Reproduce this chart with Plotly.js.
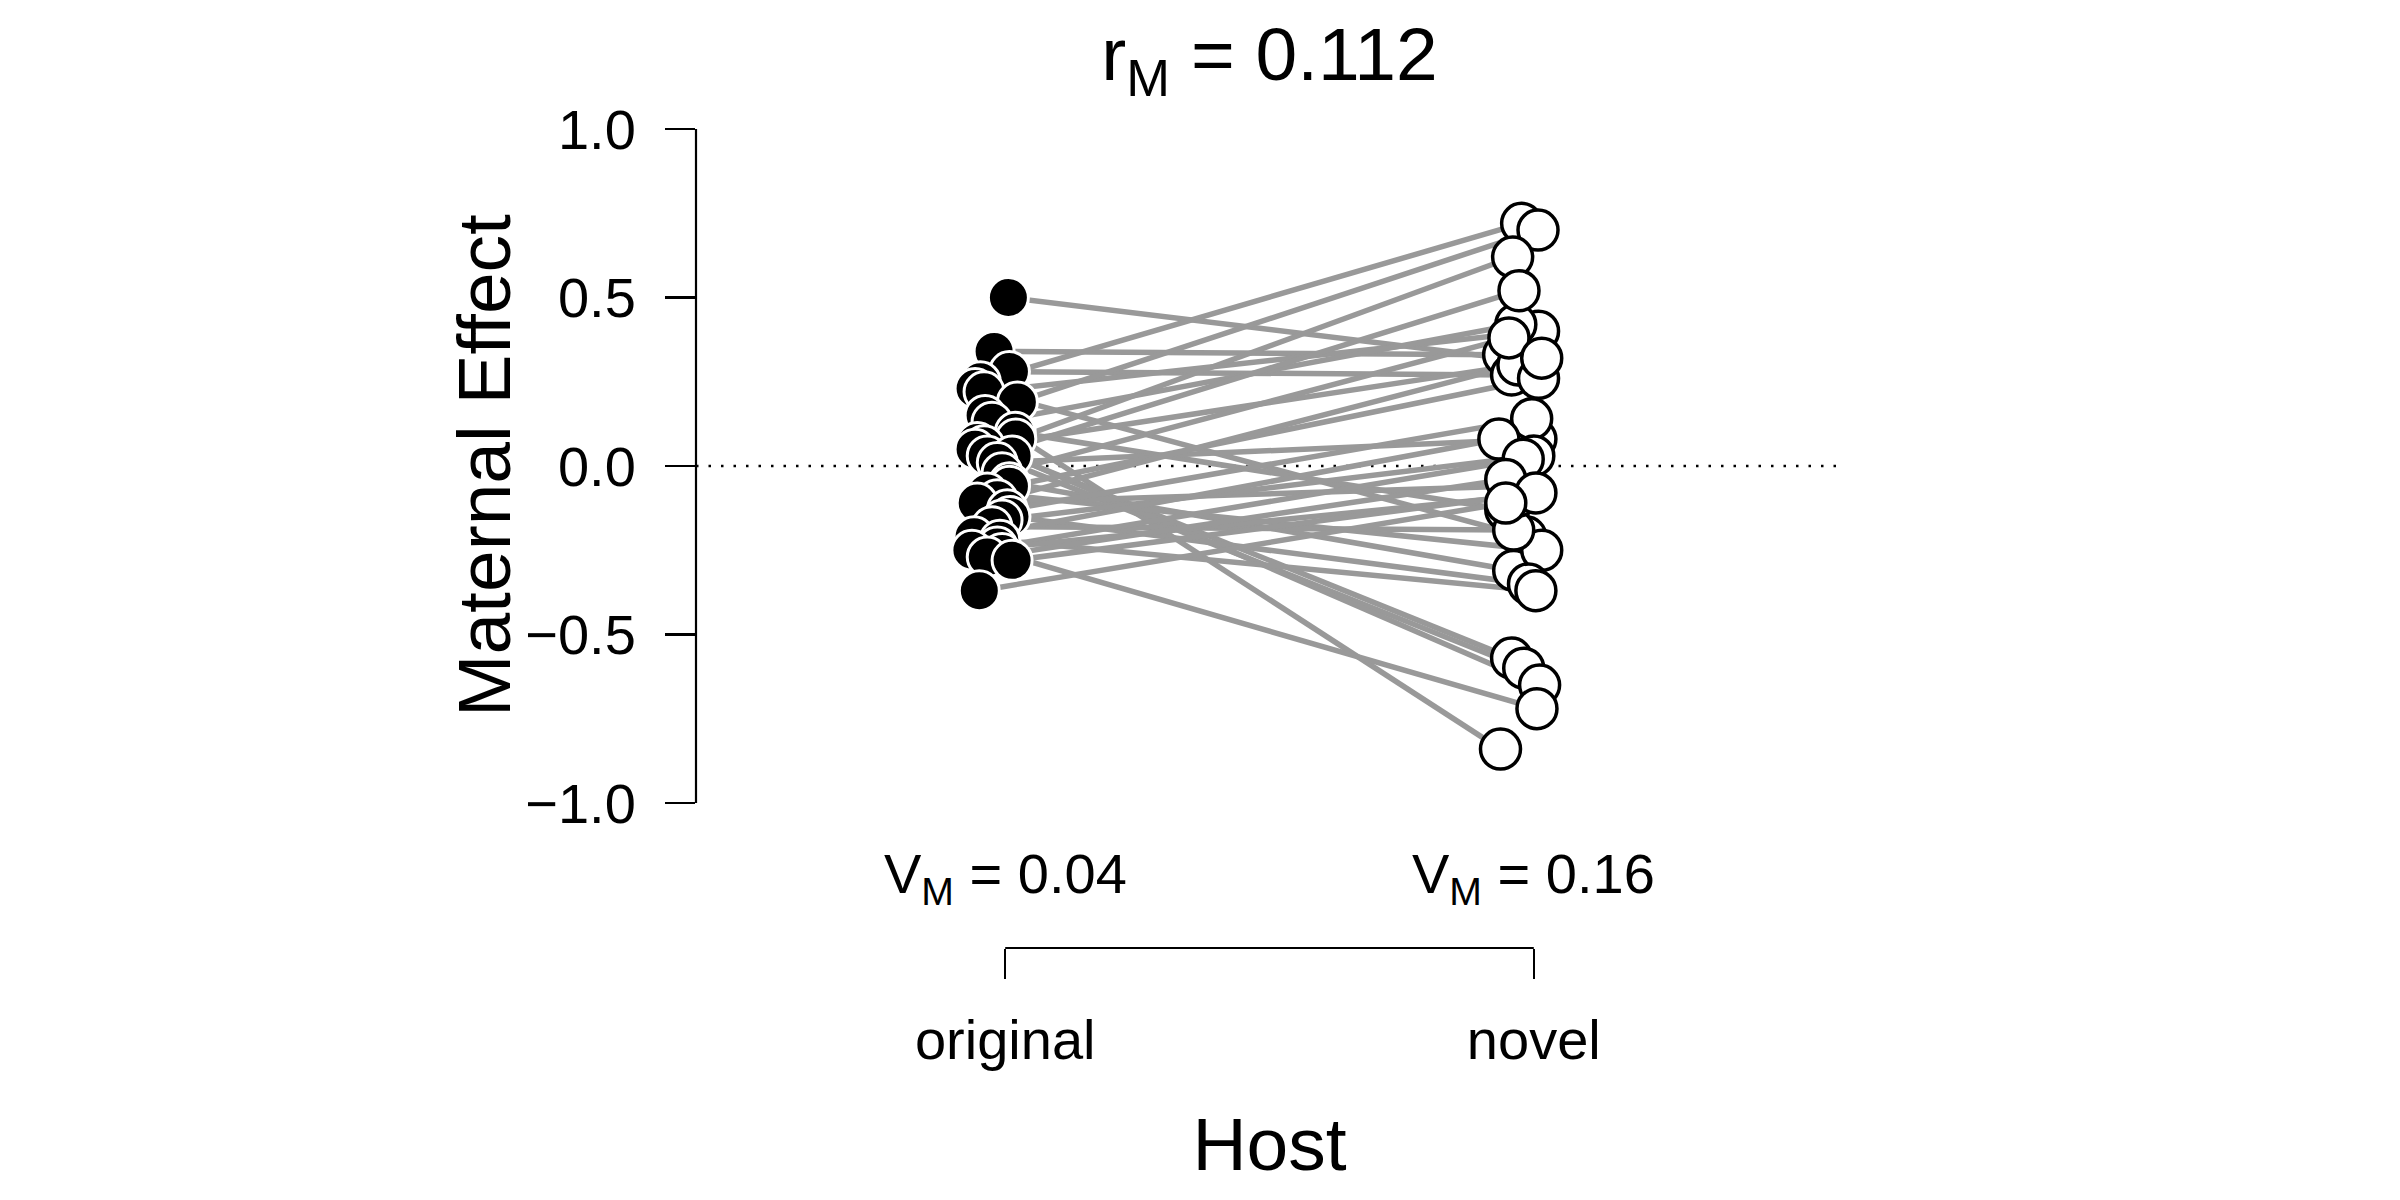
<!DOCTYPE html>
<html>
<head>
<meta charset="utf-8">
<script src="https://cdn.plot.ly/plotly-3.0.1.min.js"></script>
<style>html,body{margin:0;padding:0;background:#fff;}#chart{width:2400px;height:1200px;}</style>
</head>
<body>
<div id="chart"></div>
<script>
// ---- data (one entry per family, pair-ordered) ----
const hostCategories = ["original", "novel"];
const hostPositions = [1, 2];
const originalX = [1.006,0.979,1.008,0.953,0.943,0.960,1.023,0.962,0.975,1.019,1.020,0.947,0.960,0.943,0.966,1.013,0.985,0.994,1.008,1.008,0.966,0.985,0.947,1.004,1.009,0.994,0.975,0.941,0.990,0.985,0.937,0.994,0.966,1.013,0.951];
const originalEffect = [0.50,0.34,0.28,0.25,0.23,0.22,0.19,0.15,0.13,0.10,0.08,0.07,0.06,0.05,0.03,0.03,0.01,-0.02,-0.05,-0.06,-0.08,-0.10,-0.11,-0.13,-0.15,-0.16,-0.18,-0.21,-0.22,-0.24,-0.25,-0.26,-0.27,-0.28,-0.37];
const novelX = [1.994,1.943,1.958,1.977,1.985,2.009,2.008,1.937,1.966,1.947,1.960,1.958,1.970,1.981,1.972,2.011,2.004,1.953,1.962,2.009,2.015,2.015,1.953,1.996,1.990,2.000,1.962,1.934,2.004,1.980,1.970,2.006,1.947,2.004,1.947];
const novelEffect = [0.31,0.33,0.27,0.72,-0.21,0.40,0.70,-0.84,0.42,-0.13,0.62,-0.57,0.30,-0.60,0.52,-0.65,0.08,0.38,-0.31,0.26,-0.25,0.32,-0.06,0.14,-0.35,0.03,-0.19,0.08,-0.37,0.02,-0.09,-0.72,-0.04,-0.08,-0.11];
const varianceLabels = ["0.04", "0.16"];
const correlationLabel = "0.112";
const yTickVals = [-1.0, -0.5, 0.0, 0.5, 1.0];

// ---- build traces ----
const segX = [], segY = [];
for (let i = 0; i < originalEffect.length; i++) {
  segX.push(originalX[i], novelX[i], null);
  segY.push(originalEffect[i], novelEffect[i], null);
}
const FONT = "Liberation Sans, Arial, Helvetica, sans-serif";

const traces = [
  { x: segX, y: segY, type: "scatter", mode: "lines",
    line: { color: "#999999", width: 5.5 }, hoverinfo: "skip", showlegend: false },
  { x: novelX, y: novelEffect, type: "scatter", mode: "markers",
    marker: { size: 40, color: "#ffffff", line: { color: "#000000", width: 3.5 } },
    showlegend: false },
  { x: originalX, y: originalEffect, type: "scatter", mode: "markers",
    marker: { size: 40, color: "#000000", line: { color: "#ffffff", width: 3 } },
    showlegend: false }
];

const annotations = hostPositions.map((p, i) => ({
  x: p, xref: "x", y: 0.0839, yref: "paper", yanchor: "middle", xanchor: "center",
  text: "V<sub>M</sub> = " + varianceLabels[i], showarrow: false,
  font: { family: FONT, size: 56, color: "#000" }
}));
annotations.push({
  x: -0.1848, xref: "paper", y: 0.5697, yref: "paper", xanchor: "center", yanchor: "middle",
  text: "Maternal Effect", textangle: -90, showarrow: false,
  font: { family: FONT, size: 75, color: "#000" }
});

const layout = {
  width: 2400, height: 1200,
  paper_bgcolor: "#fff", plot_bgcolor: "rgba(0,0,0,0)",
  margin: { l: 696, r: 557, t: 102, b: 252, pad: 0 },
  font: { family: FONT, color: "#000" },
  showlegend: false,
  title: { text: "r<sub>M</sub> = " + correlationLabel, x: 0.5, xref: "paper", xanchor: "center",
           y: 1 - 54 / 1200, yref: "container", yanchor: "middle",
           font: { family: FONT, size: 75, color: "#000" } },
  xaxis: {
    range: [0.415, 2.585], anchor: "free", position: 0,
    tickmode: "array", tickvals: hostPositions, ticktext: hostCategories,
    ticks: "outside", ticklen: 30, tickwidth: 2.2, tickcolor: "#000",
    ticklabelstandoff: 13,
    tickfont: { family: FONT, size: 56, color: "#000" },
    showline: false, showgrid: false, zeroline: false, automargin: false,
    title: { text: "Host", font: { family: FONT, size: 75, color: "#000" }, standoff: 47 }
  },
  yaxis: {
    domain: [0.1395, 1], range: [-1.08, 1.08],
    tickmode: "array", tickvals: yTickVals, tickformat: ".1f",
    ticks: "outside", ticklen: 30, tickwidth: 2.2, tickcolor: "#000",
    ticklabelstandoff: 18,
    tickfont: { family: FONT, size: 56, color: "#000" },
    showline: false, showgrid: false, zeroline: false, automargin: false,
    title: { text: "" }
  },
  shapes: [
    { type: "line", xref: "paper", yref: "y", x0: 0, x1: 1, y0: 0, y1: 0,
      line: { color: "#000", width: 2.5, dash: "2.5px,10px" }, layer: "below" },
    { type: "line", xref: "paper", yref: "y", x0: 0, x1: 0, y0: yTickVals[0], y1: yTickVals[yTickVals.length - 1],
      line: { color: "#000", width: 2.2 }, layer: "above" },
    { type: "line", xref: "x", yref: "paper", x0: hostPositions[0], x1: hostPositions[1], y0: 0, y1: 0,
      line: { color: "#000", width: 2.2 }, layer: "above" }
  ],
  annotations: annotations
};

Plotly.newPlot("chart", traces, layout, { staticPlot: true, displayModeBar: false });
</script>
</body>
</html>
